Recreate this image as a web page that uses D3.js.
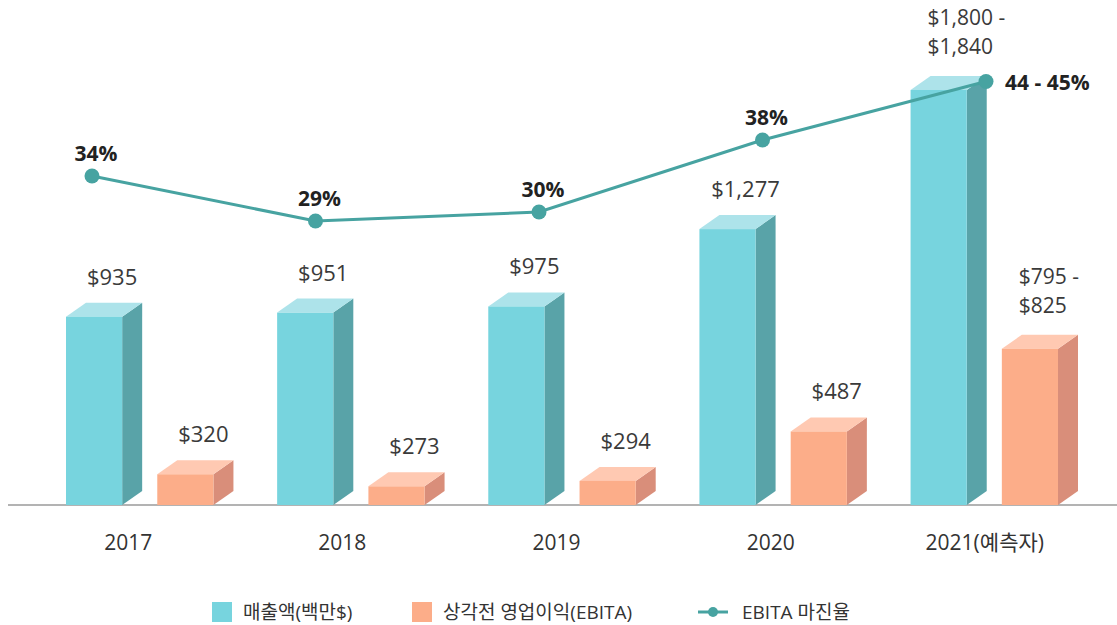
<!DOCTYPE html>
<html>
<head>
<meta charset="utf-8">
<script src="https://cdn.jsdelivr.net/npm/d3@7"></script>
<style>
  html, body { margin: 0; padding: 0; background: #fff; }
  svg { display: block; font-family: "Open Sans", "Noto Sans", "Noto Sans CJK KR", sans-serif; }
</style>
</head>
<body>
<svg id="chart" width="1117" height="625"></svg>
<script>
// Revenue, EBITA and EBITA margin by year (2021 is a forecast range)
const years = ["2017", "2018", "2019", "2020", "2021"];
const yearLabels = ["2017", "2018", "2019", "2020", "2021(예측자)"];
const revenueLow = [935, 951, 975, 1277, 1800];
const revenueHigh = [935, 951, 975, 1277, 1840];
const ebitaLow = [320, 273, 294, 487, 795];
const ebitaHigh = [320, 273, 294, 487, 825];
const marginLow = [34, 29, 30, 38, 44];
const marginHigh = [34, 29, 30, 38, 45];
const legendLabels = ["매출액(백만$)", "상각전 영업이익(EBITA)", "EBITA 마진율"];

const fmt = d3.format("$,");
const mid = (a, b) => (a + b) / 2;

const W = 1117, H = 625;
const baseY = 505;
const depthX = 20, depthY = 14;

const colors = {
  revenue: { front: "#77d4de", top: "#ade3ea", side: "#59a3a8" },
  ebita:   { front: "#fcad89", top: "#ffc9b2", side: "#d98e7a" },
  line: "#47a3a1"
};

const svg = d3.select("#chart");

// Group positions: each band holds the revenue bar, a gap, the EBITA bar and the 3D depth
const x = d3.scaleBand().domain(years).range([66, 1078]).paddingInner(0.207).paddingOuter(0);
const bw = x.bandwidth();
const barW = (bw - depthX) * 56 / 147;
const gapW = (bw - depthX) - 2 * barW;

// Bar heights use a truncated value axis
const y = d3.scaleLinear().domain([200, 1820]).range([baseY, 90]);

// Margin line has its own scales
const xLine = d3.scalePoint().domain(years).range([92, 986]);
const yLine = d3.scaleLinear().domain([0, 50]).range([482, 32]);

const revenue = years.map((yr, i) => ({
  year: yr, low: revenueLow[i], high: revenueHigh[i], value: mid(revenueLow[i], revenueHigh[i]),
  x0: x(yr), colors: colors.revenue
}));
const ebita = years.map((yr, i) => ({
  year: yr, low: ebitaLow[i], high: ebitaHigh[i], value: mid(ebitaLow[i], ebitaHigh[i]),
  x0: x(yr) + barW + gapW, colors: colors.ebita
}));
const margin = years.map((yr, i) => ({
  year: yr, low: marginLow[i], high: marginHigh[i], value: mid(marginLow[i], marginHigh[i])
}));

// Baseline
svg.append("line")
  .attr("x1", 8).attr("x2", W)
  .attr("y1", baseY).attr("y2", baseY)
  .attr("stroke", "#b3b3b3").attr("stroke-width", 2);

// 3D bars
function drawBars(data) {
  const g = svg.append("g");
  const bar = g.selectAll("g.bar").data(data).join("g").attr("class", "bar");
  bar.append("polygon")
    .attr("fill", d => d.colors.side)
    .attr("points", d => {
      const t = y(d.value), r = d.x0 + barW;
      return [[r, t], [r + depthX, t - depthY], [r + depthX, baseY - depthY], [r, baseY]].join(" ");
    });
  bar.append("polygon")
    .attr("fill", d => d.colors.top)
    .attr("points", d => {
      const t = y(d.value), l = d.x0;
      return [[l, t], [l + depthX, t - depthY], [l + barW + depthX, t - depthY], [l + barW, t]].join(" ");
    });
  bar.append("rect")
    .attr("fill", d => d.colors.front)
    .attr("x", d => d.x0)
    .attr("y", d => y(d.value))
    .attr("width", barW)
    .attr("height", d => baseY - y(d.value));

  // Value labels above each bar
  bar.each(function (d) {
    const sel = d3.select(this);
    const top = y(d.value) - depthY - 18;
    if (d.low === d.high) {
      sel.append("text")
        .attr("x", d.x0 + (barW + depthX) / 2 + 8)
        .attr("y", top)
        .attr("text-anchor", "middle")
        .attr("font-size", 22)
        .attr("fill", "#3a3a3a")
        .text(fmt(d.value));
    } else {
      [fmt(d.low) + " -", fmt(d.high)].forEach((s, k) => {
        sel.append("text")
          .attr("x", d.x0 + 17)
          .attr("y", top - 4 - (1 - k) * 29)
          .attr("font-size", 21)
          .attr("fill", "#3a3a3a")
          .text(s);
      });
    }
  });
}
drawBars(revenue);
drawBars(ebita);

// EBITA margin line
svg.append("path")
  .datum(margin)
  .attr("fill", "none")
  .attr("stroke", colors.line)
  .attr("stroke-width", 3)
  .attr("d", d3.line().x(d => xLine(d.year)).y(d => yLine(d.value)));

svg.append("g").selectAll("circle").data(margin).join("circle")
  .attr("cx", d => xLine(d.year))
  .attr("cy", d => yLine(d.value))
  .attr("r", 7.5)
  .attr("fill", colors.line);

svg.append("g").selectAll("text").data(margin).join("text")
  .attr("x", d => d.low === d.high ? xLine(d.year) + 4 : xLine(d.year) + 19)
  .attr("y", d => d.low === d.high ? yLine(d.value) - 15 : yLine(d.value) + 8)
  .attr("text-anchor", d => d.low === d.high ? "middle" : "start")
  .attr("font-size", 21)
  .attr("font-weight", "bold")
  .attr("fill", "#222")
  .text(d => d.low === d.high ? `${d.value}%` : `${d.low} - ${d.high}%`);

// Category axis labels
const xAxis = d3.axisBottom(d3.scalePoint().domain(years)
    .range([x(years[0]) + barW + gapW / 2 - 12, x(years[years.length - 1]) + barW + gapW / 2]))
  .tickSize(0)
  .tickPadding(0)
  .tickFormat((d, i) => yearLabels[i]);
const axisG = svg.append("g").attr("transform", `translate(0, ${baseY + 30})`).call(xAxis);
axisG.select(".domain").remove();
axisG.selectAll("text")
  .attr("font-size", 21)
  .attr("font-family", "\"Open Sans\", \"Noto Sans CJK KR\", sans-serif")
  .attr("fill", "#333");

// Legend
const legendX = [212, 412, 698];
const legendY = 612;
const lg = svg.append("g");
[colors.revenue.front, colors.ebita.front].forEach((c, i) => {
  lg.append("rect").attr("x", legendX[i]).attr("y", legendY - 10).attr("width", 20).attr("height", 20).attr("fill", c);
  lg.append("text").attr("x", legendX[i] + 31).attr("y", legendY + 7)
    .attr("font-size", 19).attr("fill", "#333").text(legendLabels[i]);
});
lg.append("line").attr("x1", legendX[2]).attr("x2", legendX[2] + 30)
  .attr("y1", legendY).attr("y2", legendY)
  .attr("stroke", colors.line).attr("stroke-width", 3);
lg.append("circle").attr("cx", legendX[2] + 15).attr("cy", legendY).attr("r", 5).attr("fill", colors.line);
lg.append("text").attr("x", legendX[2] + 44).attr("y", legendY + 7)
  .attr("font-size", 19).attr("fill", "#333").text(legendLabels[2]);
</script>
</body>
</html>
